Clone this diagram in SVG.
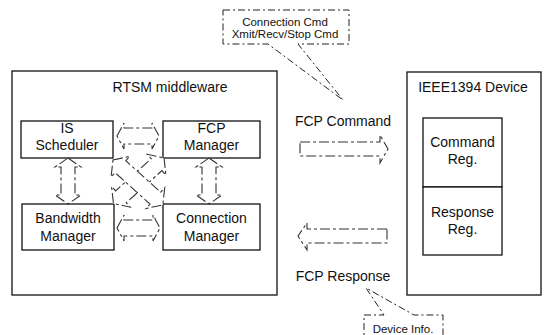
<svg xmlns="http://www.w3.org/2000/svg" width="545" height="335" viewBox="0 0 545 335">
<style>
.box{fill:#fff;stroke:#111;stroke-width:1.3}
.t{font-family:"Liberation Sans",Arial,sans-serif;font-size:14px;fill:#111;text-anchor:middle}
.s{font-family:"Liberation Sans",Arial,sans-serif;font-size:11.5px;fill:#111;text-anchor:middle}
.arr{fill:#fff;stroke:#333;stroke-width:1.1;stroke-dasharray:10 3 3 3}
.call{fill:#fff;stroke:#222;stroke-width:1;stroke-dasharray:7 3 2 3}
</style>
<rect width="545" height="335" fill="#fff"/>
<g id="rtsm">
<rect class="box" x="12" y="71" width="265" height="224"/>
<text class="t" x="170" y="92">RTSM middleware</text>
</g>
<g id="is-scheduler">
<rect class="box" x="21" y="121" width="92" height="37"/>
<text class="t" x="67" y="133">IS</text>
<text class="t" x="67" y="150">Scheduler</text>
</g>
<g id="fcp-manager">
<rect class="box" x="163" y="121" width="97" height="37"/>
<text class="t" x="211.5" y="133">FCP</text>
<text class="t" x="211.5" y="150">Manager</text>
</g>
<g id="bandwidth-manager">
<rect class="box" x="22" y="204" width="92" height="46"/>
<text class="t" x="68" y="223">Bandwidth</text>
<text class="t" x="68" y="241">Manager</text>
</g>
<g id="connection-manager">
<rect class="box" x="163" y="204" width="97" height="46"/>
<text class="t" x="211.5" y="223">Connection</text>
<text class="t" x="211.5" y="241">Manager</text>
</g>
<g id="ieee1394-device">
<rect class="box" x="407" y="72" width="134" height="223"/>
<text class="t" x="473" y="92">IEEE1394 Device</text>
</g>
<g id="command-reg">
<rect class="box" x="423" y="118" width="79" height="69"/>
<text class="t" x="462.5" y="147">Command</text>
<text class="t" x="462.5" y="164">Reg.</text>
</g>
<g id="response-reg">
<rect class="box" x="423" y="187" width="79" height="68"/>
<text class="t" x="462.5" y="217">Response</text>
<text class="t" x="462.5" y="234">Reg.</text>
</g>
<g id="fcp-command-label">
<text class="t" x="343" y="126">FCP Command</text>
</g>
<g id="fcp-response-label">
<text class="t" x="343" y="281">FCP Response</text>
</g>
<g id="callout-cmd">
<path class="call" d="M223,10 H349 V44 H298 L343,100 L268,44 H223 Z"/>
<text class="s" x="285" y="26">Connection Cmd</text>
<text class="s" x="285" y="38">Xmit/Recv/Stop Cmd</text>
</g>
<g id="callout-info">
<path class="call" d="M364,345 V315 H384 L366,288 L414,315 H443 V345"/>
<text class="s" x="403" y="333">Device Info.</text>
</g>
<g id="connectors">
<path class="arr" transform="translate(117,136)" d="M0,0 L7,-13 V-8 H35 V-13 L42,0 L35,13 V8 H7 V13 Z"/>
<path class="arr" transform="translate(117,228)" d="M0,0 L7,-13 V-8 H36 V-13 L43,0 L36,13 V8 H7 V13 Z"/>
<path class="arr" transform="translate(68,158) rotate(90)" d="M0,0 L9,-13 V-7 H37 V-13 L46,0 L37,13 V7 H9 V13 Z"/>
<path class="arr" transform="translate(209,158) rotate(90)" d="M0,0 L9,-13 V-7 H37 V-13 L46,0 L37,13 V7 H9 V13 Z"/>
<path class="arr" transform="translate(164,158) rotate(138)" d="M0,0 L10,-14 V-8 H58 V-14 L68,0 L58,14 V8 H10 V14 Z"/>
<path class="arr" transform="translate(113,160) rotate(42)" d="M0,0 L10,-14 V-8 H57 V-14 L67,0 L57,14 V8 H10 V14 Z"/>
<path class="arr" d="M300,142 H380 V135 L388,149 L380,163 V156 H300 Z"/>
<path class="arr" d="M387,229 H307 V223 L298,236 L307,250 V243 H387 Z"/>
</g>
</svg>
